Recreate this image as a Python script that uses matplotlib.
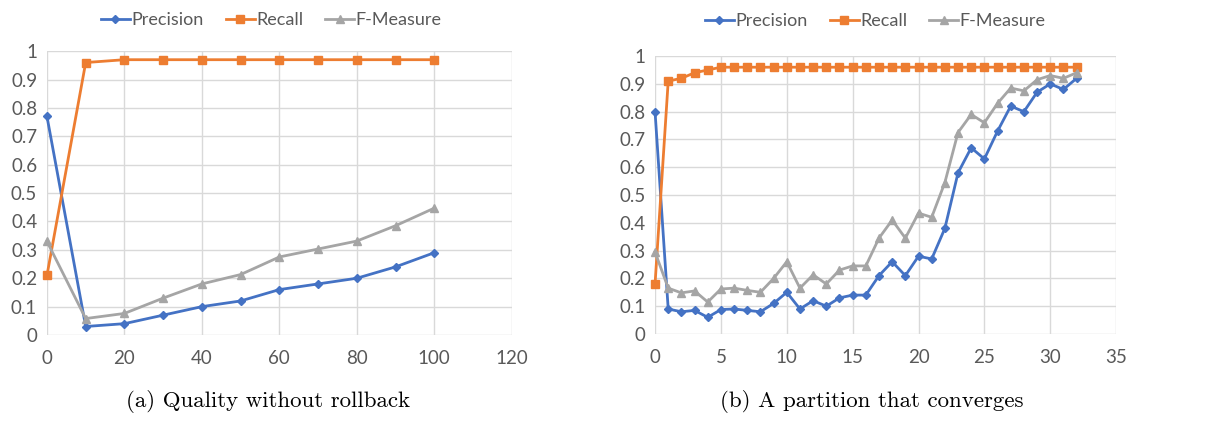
import matplotlib as mpl
mpl.use('Agg')
import matplotlib.pyplot as plt
import numpy as np

# (a) quality without rollback
xa = [0, 10, 20, 30, 40, 50, 60, 70, 80, 90, 100]
prec_a = [0.77, 0.03, 0.04, 0.07, 0.10, 0.12, 0.16, 0.18, 0.20, 0.24, 0.29]
rec_a = [0.21, 0.96, 0.97, 0.97, 0.97, 0.97, 0.97, 0.97, 0.97, 0.97, 0.97]
f_a = [0.33, 0.058, 0.076, 0.13, 0.18, 0.213, 0.275, 0.303, 0.331, 0.385, 0.447]

# (b) a partition that converges
xb = list(range(0, 33))
prec_b = [0.80, 0.09, 0.08, 0.085, 0.06, 0.088, 0.09, 0.085, 0.08, 0.11, 0.15,
          0.09, 0.12, 0.10, 0.13, 0.14, 0.14, 0.21, 0.26, 0.21, 0.28, 0.27,
          0.38, 0.58, 0.67, 0.63, 0.73, 0.82, 0.80, 0.87, 0.90, 0.88, 0.92]
rec_b = [0.18, 0.91, 0.92, 0.94, 0.95] + [0.96] * 28
f_b = [0.295, 0.165, 0.148, 0.155, 0.115, 0.162, 0.165, 0.157, 0.15, 0.20, 0.26,
       0.165, 0.213, 0.18, 0.23, 0.245, 0.245, 0.345, 0.41, 0.345, 0.435, 0.42,
       0.545, 0.725, 0.79, 0.76, 0.83, 0.885, 0.875, 0.915, 0.93, 0.92, 0.94]

captions = ['(a) Quality without rollback', '(b) A partition that converges']
labels = ['Precision', 'Recall', 'F-Measure']
colors = ['#4472C4', '#ED7D31', '#A5A5A5']
markers = ['D', 's', '^']
msizes = [4, 6, 6]

plt.rcParams['font.family'] = ['Lato', 'DejaVu Sans']

fig = plt.figure(figsize=(12.23, 4.23), dpi=100)
ax1 = fig.add_axes([0.0384, 0.208, 0.380, 0.671])
ax2 = fig.add_axes([0.5356, 0.2104, 0.377, 0.657])

panels = [(ax1, xa, [prec_a, rec_a, f_a], 120, 20, (0.483, 1.11)),
          (ax2, xb, [prec_b, rec_b, f_b], 35, 5, (0.478, 1.125))]

for ax, x, ys, xmax, xstep, anchor in panels:
    for y, lab, c, m, ms in zip(ys, labels, colors, markers, msizes):
        ax.plot(x, y, '-', color=c, marker=m, ms=ms, lw=2, label=lab, clip_on=False)
    ax.set_xlim(0, xmax)
    ax.set_ylim(0, 1)
    ax.set_xticks(np.arange(0, xmax + 1, xstep))
    ax.set_yticks(np.arange(0, 1.01, 0.1))
    ax.set_yticklabels(['0', '0.1', '0.2', '0.3', '0.4', '0.5', '0.6', '0.7', '0.8', '0.9', '1'])
    ax.grid(True, color='#D9D9D9', lw=1)
    ax.set_axisbelow(True)
    for s in ax.spines.values():
        s.set_visible(False)
    ax.tick_params(length=0, labelsize=13.5, labelcolor='#595959')
    ax.tick_params(axis='x', pad=11)
    ax.tick_params(axis='y', pad=7)
    ax.legend(loc='center', bbox_to_anchor=anchor, ncol=3, frameon=False,
              fontsize=13, handlelength=1.6, handletextpad=0.1, columnspacing=1.2,
              labelcolor='#595959')

fig.text(0.219, 0.05, captions[0], ha='center', va='center', family='cmr10', fontsize=16.5)
fig.text(0.713, 0.05, captions[1], ha='center', va='center', family='cmr10', fontsize=16.5)

plt.savefig('out.png', dpi=100)
plt.close()
